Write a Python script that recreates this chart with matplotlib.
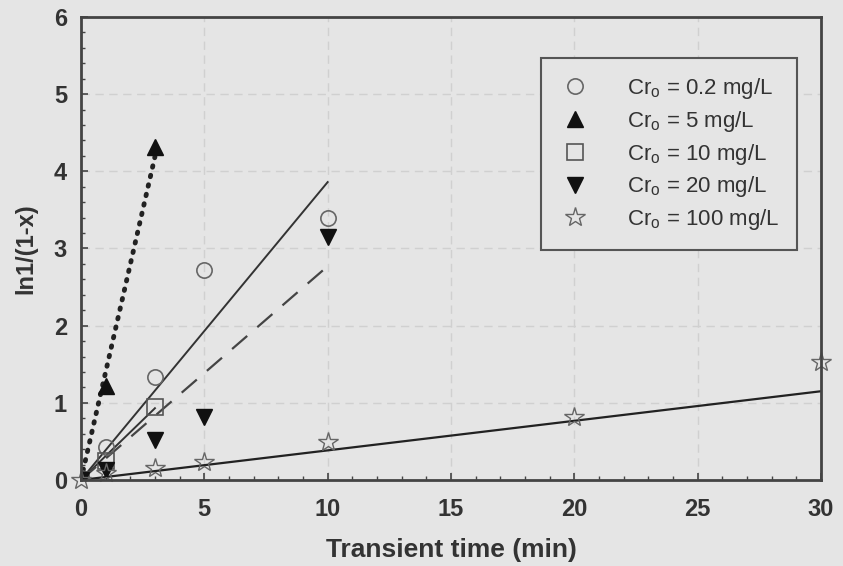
import numpy as np
import matplotlib.pyplot as plt

plt.rcParams['font.family'] = ['Liberation Sans', 'DejaVu Sans']

# данные
t_02 = [0, 1, 3, 5, 10]
y_02 = [0.03, 0.43, 1.34, 2.72, 3.40]

t_5 = [0, 1, 3]
y_5 = [0.0, 1.22, 4.31]

t_10 = [0, 1, 3]
y_10 = [0.0, 0.24, 0.95]

t_20 = [0, 1, 3, 5, 10]
y_20 = [0.0, 0.13, 0.52, 0.81, 3.15]

t_100 = [0, 1, 3, 5, 10, 20, 30]
y_100 = [0.0, 0.09, 0.15, 0.23, 0.49, 0.82, 1.53]

# линии аппроксимации (начало и конец)
fit_02 = ([0, 10], [0, 3.86])
fit_5 = ([0, 3], [0, 4.19])
fit_10 = ([0, 3], [0, 0.93])
fit_20 = ([0, 10], [0, 2.77])
fit_100 = ([0, 30], [0, 1.15])

labels = ["Cr$_\\mathregular{o}$ = 0.2 mg/L", "Cr$_\\mathregular{o}$ = 5 mg/L",
          "Cr$_\\mathregular{o}$ = 10 mg/L", "Cr$_\\mathregular{o}$ = 20 mg/L",
          "Cr$_\\mathregular{o}$ = 100 mg/L"]

bg = "#e5e5e5"
fig = plt.figure(figsize=(8.43, 5.66), dpi=100, facecolor=bg)
ax = fig.add_axes([0.096, 0.152, 0.878, 0.818], facecolor=bg)

# линии
ax.plot(*fit_02, color="#333333", lw=1.4, ls="-")
ax.plot(*fit_5, color="#222222", lw=3.5, ls=(0, (0.3, 1.7)), dash_capstyle="round")
ax.plot(*fit_10, color="#333333", lw=1.4, ls="-")
ax.plot(*fit_20, color="#444444", lw=1.6, ls=(0, (9, 6)))
ax.plot(*fit_100, color="#222222", lw=1.6, ls="-")

# точки
ax.plot(t_02, y_02, "o", ms=11, mfc="none", mec="#666666", mew=1.2, label=labels[0])
ax.plot(t_5, y_5, "^", ms=11, color="#111111", label=labels[1])
ax.plot(t_10, y_10, "s", ms=11, mfc="none", mec="#555555", mew=1.2, label=labels[2])
ax.plot(t_20, y_20, "v", ms=11, color="#111111", label=labels[3])
ax.plot(t_100, y_100, "*", ms=15, mfc="none", mec="#666666", mew=1.0, label=labels[4],
        clip_on=False)

ax.set_xlim(0, 30)
ax.set_ylim(0, 6)
ax.set_xticks(range(0, 31, 5))
ax.set_yticks(range(0, 7))
ax.set_xticks(range(0, 31), minor=True)
ax.set_yticks(np.arange(0, 6.01, 0.2), minor=True)
ax.tick_params(which="both", direction="in", colors="#444444", labelcolor="#333333")
ax.tick_params(which="major", length=5, width=1.2, labelsize=17)
ax.tick_params(axis="x", which="major", pad=13)
ax.tick_params(axis="y", which="major", pad=10)
ax.tick_params(which="minor", length=3, width=1)
for lab in ax.get_xticklabels() + ax.get_yticklabels():
    lab.set_fontweight("bold")

ax.grid(True, which="major", color="#d0d0d0", ls=(0, (6, 4)), lw=1)
for s in ax.spines.values():
    s.set_color("#444444")
    s.set_linewidth(2)

ax.set_xlabel("Transient time (min)", fontsize=19, fontweight="bold", color="#333333", labelpad=12)
ax.set_ylabel("ln1/(1-x)", fontsize=17, fontweight="bold", color="#333333", labelpad=12)

leg = ax.legend(loc="upper right", bbox_to_anchor=(0.968, 0.911), fontsize=16,
                frameon=True, fancybox=False, edgecolor="#555555", facecolor=bg,
                framealpha=1, borderpad=0.8, labelspacing=0.35, handletextpad=1.6,
                handlelength=1.5, borderaxespad=0)
leg.get_frame().set_linewidth(1.5)
for txt in leg.get_texts():
    txt.set_color("#333333")

fig.savefig("out.png", dpi=100, facecolor=bg)
